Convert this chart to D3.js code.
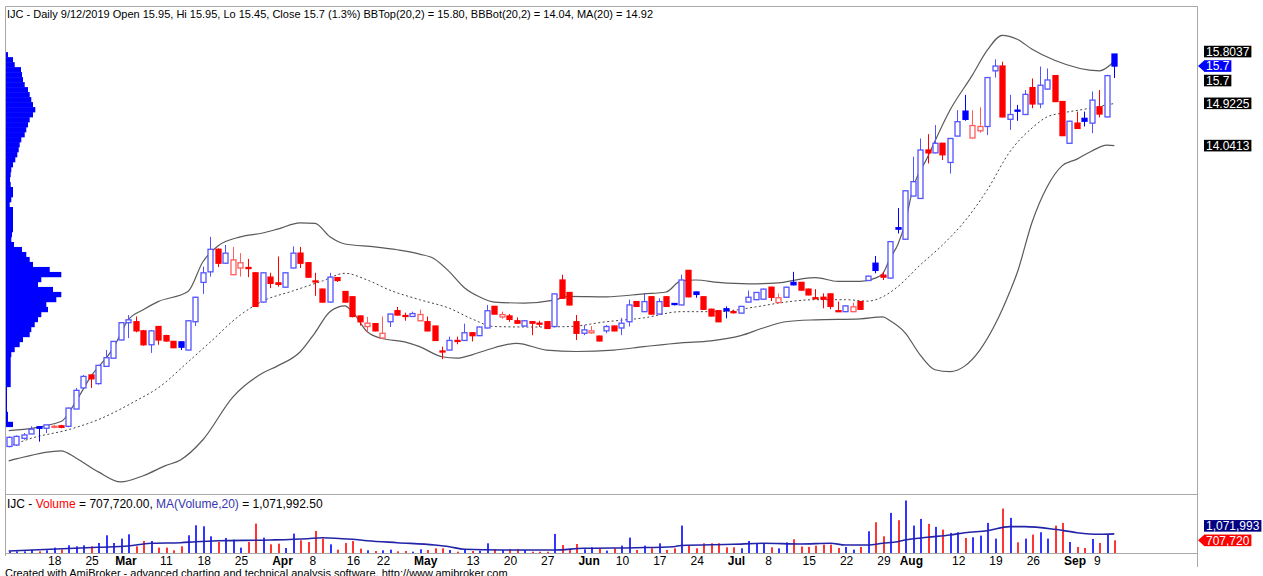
<!DOCTYPE html>
<html>
<head>
<meta charset="utf-8">
<script src="https://cdn.jsdelivr.net/npm/d3@7"></script>
<style>
body { margin: 0; background: #fff; overflow: hidden; }
svg { display: block; font-family: "Liberation Sans", Arial, sans-serif; }
</style>
</head>
<body>
<svg id="chart" width="1263" height="576"></svg>
<script>
// HOSE closed days inside the range
var holidays = ["2019-04-15", "2019-04-29", "2019-04-30", "2019-05-01", "2019-09-02"];

var open = [7.77,7.80,7.94,8.03,8.18,8.15,8.17,8.20,8.19,8.55,8.99,9.26,9.08,9.44,9.61,9.99,10.35,10.37,10.18,9.89,
10.27,10.08,9.96,9.95,9.78,10.37,11.19,11.41,11.88,11.59,11.35,11.49,11.50,11.39,10.78,11.30,11.18,11.09,11.49,11.80,
11.60,11.22,11.05,10.78,11.29,11.00,10.89,10.49,10.27,10.33,10.03,10.37,10.60,10.50,10.48,10.39,10.37,10.28,9.76,9.78,
9.98,9.98,10.14,10.08,10.24,10.69,10.47,10.49,10.39,10.28,10.37,10.34,10.37,10.27,11.24,10.98,10.37,10.13,10.14,10.07,
10.18,10.28,10.24,10.37,10.79,10.58,10.89,10.53,10.89,10.75,10.72,11.44,10.99,10.89,10.63,10.60,10.64,10.58,10.55,10.78,
10.83,10.84,11.09,10.77,10.88,11.19,11.19,11.05,10.87,10.88,10.95,10.60,10.58,10.58,10.79,11.23,11.59,11.34,11.28,12.33,
12.09,12.99,12.94,13.95,13.89,14.09,13.69,14.24,14.76,14.20,14.35,14.44,15.60,15.70,14.59,14.78,14.69,15.25,14.91,15.22,
15.50,14.96,14.09,14.51,14.61,14.51,14.85,14.64,15.95];
var high = [7.98,8.00,8.05,8.19,8.19,8.22,8.22,8.22,8.58,8.99,9.26,9.27,9.47,9.78,9.97,10.36,10.51,10.48,10.20,10.20,
10.28,10.10,9.97,9.96,10.40,10.89,11.52,12.14,11.90,11.97,11.93,11.80,11.68,11.40,11.40,11.39,11.73,11.40,11.94,11.93,
11.61,11.39,11.06,11.39,11.30,11.01,10.90,10.50,10.47,10.34,10.48,10.54,10.68,10.56,10.58,10.62,10.48,10.29,9.85,10.06,
10.06,10.33,10.15,10.27,10.72,10.70,10.58,10.53,10.46,10.40,10.38,10.39,10.38,10.96,11.35,10.99,10.51,10.30,10.28,10.08,
10.30,10.29,10.45,10.83,10.80,10.97,10.90,10.86,10.90,10.76,11.35,11.45,11.00,10.90,10.64,10.61,10.69,10.62,10.70,11.02,
10.99,11.06,11.10,10.96,11.10,11.41,11.20,11.06,11.05,10.96,10.96,10.79,10.71,10.77,10.80,11.33,11.74,11.41,12.05,12.74,
13.11,13.81,14.19,14.28,14.47,14.10,14.20,14.78,15.10,14.78,14.84,15.47,15.84,15.79,15.10,14.89,15.20,15.44,15.69,15.65,
15.51,14.97,14.56,14.75,14.75,15.17,15.20,15.52,15.95];
var low = [7.75,7.78,7.91,8.03,7.87,8.05,8.15,8.15,8.17,8.55,8.98,8.99,9.06,9.43,9.60,9.98,10.03,10.15,9.87,9.72,
9.89,9.95,9.82,9.78,9.77,10.28,10.95,11.31,11.51,11.58,11.34,11.31,11.30,10.68,10.77,11.07,11.10,11.08,11.48,11.49,
11.29,10.91,10.77,10.77,11.20,10.77,10.46,10.29,10.14,10.17,10.02,10.26,10.50,10.39,10.47,10.38,10.17,9.97,9.59,9.77,
9.90,9.97,9.96,10.07,10.23,10.52,10.43,10.37,10.33,10.27,10.09,10.26,10.22,10.26,10.85,10.71,9.99,10.09,10.12,9.96,
10.13,10.17,10.09,10.27,10.68,10.57,10.52,10.52,10.68,10.71,10.71,10.88,10.87,10.62,10.48,10.36,10.44,10.54,10.54,10.77,
10.82,10.83,10.80,10.76,10.87,11.13,11.02,10.92,10.86,10.65,10.63,10.58,10.57,10.57,10.62,11.22,11.38,11.24,11.27,12.21,
12.08,12.98,12.93,13.67,13.88,13.74,13.46,14.23,14.56,14.19,14.31,14.26,15.46,14.63,14.37,14.56,14.68,14.82,14.82,15.21,
14.95,14.24,14.08,14.39,14.44,14.30,14.63,14.63,15.45];
var close = [7.96,7.98,8.01,8.13,8.15,8.22,8.19,8.17,8.57,8.94,9.23,9.18,9.46,9.62,9.96,10.35,10.41,10.18,9.89,10.18,
9.99,9.97,9.83,9.84,10.39,10.88,11.39,11.88,11.59,11.80,11.66,11.60,11.49,10.69,11.39,11.17,11.15,11.39,11.80,11.59,
11.30,11.20,10.78,11.30,11.23,10.78,10.48,10.37,10.34,10.18,10.13,10.53,10.51,10.49,10.54,10.52,10.18,9.98,9.75,9.98,
9.97,10.14,10.08,10.26,10.60,10.53,10.52,10.42,10.34,10.39,10.34,10.33,10.23,10.95,10.86,10.72,10.13,10.20,10.18,9.97,
10.27,10.18,10.34,10.72,10.69,10.79,10.53,10.79,10.69,10.73,11.24,10.89,10.94,10.63,10.49,10.37,10.60,10.57,10.69,10.88,
10.98,11.05,10.88,10.87,11.09,11.14,11.03,10.93,10.87,10.84,10.69,10.59,10.70,10.68,10.63,11.32,11.44,11.30,12.04,12.30,
13.10,13.29,13.95,13.89,14.09,13.85,14.19,14.54,14.59,14.46,14.44,15.46,15.70,14.64,14.69,14.76,15.11,14.91,15.30,15.41,
14.96,14.25,14.55,14.40,14.55,14.99,14.70,15.50,15.70];
// volume, thousands of shares
var volume = [93,93,93,187,93,150,300,187,430,373,430,373,560,990,560,800,1045,373,672,672,
300,300,150,373,990,1550,1493,933,616,840,747,300,616,1643,859,485,523,280,1083,709,
616,1232,800,485,187,560,672,243,150,112,150,187,93,112,75,206,168,262,262,168,
75,168,112,131,542,206,168,206,206,168,75,75,75,1066,449,168,505,206,318,262,
131,262,411,860,168,411,262,542,168,262,1533,393,262,542,542,542,318,318,262,673,
542,542,318,262,598,767,365,337,411,468,468,280,337,187,337,1216,1720,935,2244,1833,
2936,1533,1907,1627,1459,1309,1122,1159,842,879,972,1683,804,2487,1964,598,804,1029,1159,804,
1533,1683,617,337,280,785,561,1029,707.72];

// indicator lines: [bar, value]
var bbTop = [[0,8.10],[7,8.29],[9,8.71],[11,9.23],[14,9.82],[16,10.41],[18,10.62],[20,10.79],[24,11.00],[26,11.62],
[28,11.95],[31,12.14],[34,12.22],[36,12.30],[39,12.43],[41,12.42],[43,12.14],[45,11.99],[49,11.93],[52,11.87],[55,11.78],
[57,11.68],[59,11.41],[61,11.08],[63,10.89],[65,10.78],[69,10.76],[73,10.82],[75,10.90],[80,10.89],[85,10.95],[88,10.99],
[90,11.22],[92,11.24],[95,11.19],[99,11.16],[103,11.18],[106,11.26],[108,11.29],[111,11.21],[114,11.21],[116,11.28],
[117,11.37],[118,11.70],[119,11.97],[120,12.43],[121,13.12],[123,13.80],[126,14.78],[129,15.51],[131,16.03],[133,16.34],
[135,16.26],[137,16.05],[140,15.82],[146,15.60],[148,15.80]];
var maLine = [[0,7.77],[3,7.94],[8,8.12],[12,8.33],[17,8.72],[20,8.99],[24,9.53],[27,9.95],[31,10.51],[34,10.80],
[38,11.01],[42,11.22],[45,11.38],[48,11.24],[51,11.03],[55,10.83],[59,10.65],[62,10.43],[65,10.27],[70,10.26],[75,10.27],
[80,10.37],[85,10.45],[90,10.58],[95,10.58],[100,10.68],[104,10.78],[108,10.83],[112,10.83],[115,10.80],[117,10.89],
[119,11.10],[122,11.55],[125,11.97],[128,12.47],[131,13.12],[134,13.91],[137,14.41],[139,14.64],[141,14.72],[144,14.80],[148,14.92]];
var bbBot = [[0,7.47],[1,7.51],[7,7.68],[9,7.53],[12,7.24],[15,7.03],[18,7.16],[21,7.37],[23,7.49],[26,7.91],[30,8.80],
[34,9.30],[36,9.45],[39,9.74],[41,10.14],[43,10.58],[45,10.70],[46,10.58],[48,10.16],[50,10.02],[53,9.95],[55,9.85],
[58,9.64],[60,9.61],[62,9.68],[64,9.78],[68,9.92],[72,9.78],[76,9.75],[81,9.78],[85,9.85],[90,9.93],[94,9.97],[98,10.08],
[101,10.24],[104,10.37],[108,10.41],[114,10.43],[117,10.47],[118,10.39],[120,10.14],[122,9.68],[124,9.37],[126,9.33],
[128,9.45],[130,9.78],[132,10.30],[134,10.99],[135,11.39],[137,12.45],[139,13.18],[141,13.62],[143,13.76],[145,13.93],
[147,14.05],[148,14.04]];
var volMA = [[0,112],[12,319],[16,392],[19,543],[23,577],[25,633],[28,689],[35,728],[40,801],[42,857],[46,767],[48,689],
[52,577],[57,448],[59,353],[61,207],[66,168],[73,168],[77,263],[84,297],[89,353],[90,420],[97,487],[101,543],[106,504],
[110,543],[112,448],[115,448],[117,543],[119,633],[120,728],[123,879],[126,1008],[128,1137],[131,1249],[134,1473],
[136,1473],[140,1327],[143,1137],[146,1047],[148,1072]];

// volume at price, top row first, between these two prices
var vapHigh = 15.99, vapLow = 8.18;
var vapVolume = [2,7,8.7,15,16,17,18.7,22,23.7,25.3,27,29.3,27,23.7,22,20.3,18.7,15.3,13.7,12.7,
11.3,9.3,7,5.3,4.7,4,4.7,7,7,5.3,3.7,7,7,7,7,7,6,5.3,8,16,
20.3,23.7,27,43.7,55.3,35.3,32,47,55.3,50.3,40.3,42,35.3,32,28.7,25.3,23.7,17,13.7,8.7,
5.3,4.7,4.7,4.7,4.7,4.7,4.7,1,1,1,1,1,2,2,7];

var tickDates = ["2019-02-18","2019-02-25","2019-03-01","2019-03-11","2019-03-18","2019-03-25","2019-04-01","2019-04-08",
"2019-04-16","2019-04-22","2019-05-02","2019-05-13","2019-05-20","2019-05-27","2019-06-03","2019-06-10","2019-06-17",
"2019-06-24","2019-07-01","2019-07-08","2019-07-15","2019-07-22","2019-07-29","2019-08-01","2019-08-12","2019-08-19",
"2019-08-26","2019-09-03","2019-09-09"];
var tickText = ["18","25","Mar","11","18","25","Apr","8","16","22","May","13","20","27","Jun","10","17","24","Jul","8",
"15","22","29","Aug","12","19","26","Sep","9"];

var priceTags = [15.8037, 15.7, 15.7, 14.9225, 14.0413];
var volTags = [1071992.5, 707720];

var fmt = d3.timeFormat("%Y-%m-%d");
var dates = d3.timeDay.range(new Date(2019, 1, 11), new Date(2019, 8, 13))
	.filter(function (d) { var w = d.getDay(); return w > 0 && w < 6 && holidays.indexOf(fmt(d)) < 0; })
	.map(fmt);

var svg = d3.select("#chart");
var blue = "#0000ff", red = "#ff0000", lblue = "#5454ff", lred = "#ff5c5c";
var frame = "#a8a8a8";

var x = d3.scalePoint().domain(dates).range([8.7, 1114.3]);
var y = d3.scaleLinear().domain([6.8, 16.91]).range([493, 8]);
var yv = d3.scaleLinear().domain([0, 3300]).range([553, 494]);
var xv = d3.scaleLinear().domain([0, 55.3]).range([6, 61.3]);

svg.append("defs").append("clipPath").attr("id", "pc")
	.append("rect").attr("x", 6).attr("y", 7).attr("width", 1191).attr("height", 487);

// frame
function hline(yy, x1, x2) { svg.append("line").attr("x1", x1).attr("x2", x2).attr("y1", yy).attr("y2", yy).attr("stroke", frame); }
function vline(xx, y1, y2) { svg.append("line").attr("x1", xx).attr("x2", xx).attr("y1", y1).attr("y2", y2).attr("stroke", frame); }
hline(6.5, 5.5, 1197.5);
hline(494.5, 5.5, 1197.5);
hline(553.5, 5.5, 1197.5);
vline(5.5, 6.5, 556);
vline(1197.5, 6.5, 567);

var pg = svg.append("g").attr("clip-path", "url(#pc)");

// volume at price
var rowH = (vapHigh - vapLow) / vapVolume.length;
pg.selectAll(".vap").data(vapVolume).enter().append("rect")
	.attr("class", "vap")
	.attr("x", xv(0))
	.attr("y", function (d, i) { return y(vapHigh - i * rowH); })
	.attr("width", function (d) { return xv(d) - xv(0); })
	.attr("height", function (d, i) { return y(vapHigh - (i + 1) * rowH) - y(vapHigh - i * rowH) + 0.3; })
	.attr("fill", blue);

// bands
var bandLine = d3.line()
	.x(function (d) { return x(dates[d[0]]); })
	.y(function (d) { return y(d[1]); })
	.curve(d3.curveMonotoneX);
pg.append("path").attr("d", bandLine(bbTop)).attr("fill", "none").attr("stroke", "#5a5a5a").attr("stroke-width", 1.2);
pg.append("path").attr("d", bandLine(bbBot)).attr("fill", "none").attr("stroke", "#5a5a5a").attr("stroke-width", 1.2);
pg.append("path").attr("d", bandLine(maLine)).attr("fill", "none").attr("stroke", "#444").attr("stroke-width", 1)
	.attr("stroke-dasharray", "2,2.5");

// candles
var idx = d3.range(dates.length);
idx.forEach(function (i) {
	var up = i === 0 || close[i] >= close[i - 1];
	var hollow = close[i] > open[i];
	var col = hollow ? (up ? lblue : lred) : (up ? blue : red);
	var cx = Math.round(x(dates[i]));
	pg.append("line")
		.attr("x1", cx + 0.5).attr("x2", cx + 0.5)
		.attr("y1", y(high[i])).attr("y2", y(low[i]))
		.attr("stroke", col);
	var top = y(Math.max(open[i], close[i]));
	var bot = y(Math.min(open[i], close[i]));
	pg.append("rect")
		.attr("x", cx - 2).attr("y", top)
		.attr("width", 5).attr("height", Math.max(1, bot - top))
		.attr("fill", hollow ? "#fff" : col)
		.attr("stroke", col)
		.attr("stroke-width", 1.3);
});

// volume bars
svg.selectAll(".vb").data(idx).enter().append("rect")
	.attr("class", "vb")
	.attr("x", function (i) { return Math.round(x(dates[i])); })
	.attr("y", function (i) { return yv(volume[i]); })
	.attr("width", 2)
	.attr("height", function (i) { return yv(0) - yv(volume[i]); })
	.attr("fill", function (i) { return close[i] > open[i] ? "#3434ff" : "#ff3434"; });

svg.append("path")
	.attr("d", d3.line()
		.x(function (d) { return x(dates[d[0]]); })
		.y(function (d) { return yv(d[1]); })
		.curve(d3.curveMonotoneX)(volMA))
	.attr("fill", "none").attr("stroke", "#2323a8").attr("stroke-width", 1.6);

// titles
svg.append("text").attr("x", 7).attr("y", 18).attr("font-size", "11px").attr("fill", "#000")
	.text("IJC - Daily 9/12/2019 Open 15.95, Hi 15.95, Lo 15.45, Close 15.7 (1.3%) BBTop(20,2) = 15.80, BBBot(20,2) = 14.04, MA(20) = 14.92");

var vt = svg.append("text").attr("x", 7).attr("y", 507.5).attr("font-size", "12px").attr("fill", "#000");
vt.append("tspan").text("IJC - ");
vt.append("tspan").attr("fill", red).text("Volume");
vt.append("tspan").text(" = 707,720.00, ");
vt.append("tspan").attr("fill", "#3636b0").text("MA(Volume,20)");
vt.append("tspan").text(" = 1,071,992.50");

// x axis labels
svg.selectAll(".xl").data(tickDates).enter().append("text")
	.attr("class", "xl")
	.attr("x", function (d) { return x(d) + 2; })
	.attr("y", 564.5)
	.attr("font-size", "12px")
	.attr("font-weight", function (d, i) { return isNaN(+tickText[i]) ? "bold" : "normal"; })
	.text(function (d, i) { return tickText[i]; });

// footer sits on the bottom edge, as in the original export
svg.append("text").attr("x", 5).attr("y", 577).attr("font-size", "11px").attr("fill", "#000")
	.text("Created with AmiBroker - advanced charting and technical analysis software. http://www.amibroker.com");

// right-hand value tags
function tag(yc, txt, fill, arrow) {
	var g = svg.append("g");
	var t = g.append("text").attr("x", 1206).attr("y", yc + 4.2).attr("font-size", "12px").attr("fill", "#fff").text(txt);
	var w = t.node().getComputedTextLength() + 4;
	g.insert("rect", "text").attr("x", 1204).attr("y", yc - 5.8).attr("width", w).attr("height", 11.6).attr("fill", fill);
	if (arrow) {
		g.insert("polygon", "text").attr("points", [[1198, yc], [1204.5, yc - 5.8], [1204.5, yc + 5.8]].join(" ")).attr("fill", fill);
	}
}

var lastClose = close[close.length - 1];
var arrowAt = priceTags.indexOf(lastClose);
var ty = priceTags.map(function (v) { return y(v); });
for (var k = arrowAt - 1; k >= 0; k--) ty[k] = Math.min(ty[k], ty[k + 1] - 14.5);
for (var k2 = arrowAt + 1; k2 < ty.length; k2++) ty[k2] = Math.max(ty[k2], ty[k2 - 1] + 14.5);
priceTags.forEach(function (v, k) {
	tag(ty[k], String(v), k === arrowAt ? blue : "#000", k === arrowAt);
});

var vy1 = yv(volTags[1] / 1000);
var vy0 = Math.min(yv(volTags[0] / 1000), vy1 - 14.5);
tag(vy0, d3.format(",.0f")(volTags[0]), "#000080", false);
tag(vy1, d3.format(",.0f")(volTags[1]), red, true);
</script>
</body>
</html>
